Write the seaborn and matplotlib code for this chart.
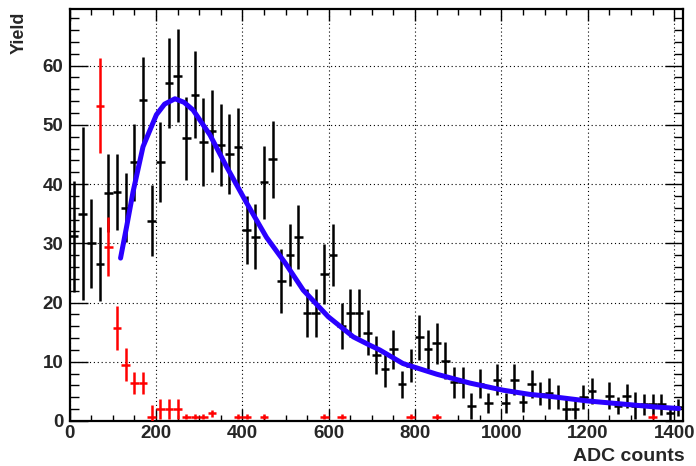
import numpy as np
import pandas as pd
import matplotlib
matplotlib.use("Agg")
import matplotlib.pyplot as plt
from matplotlib.ticker import MultipleLocator
import seaborn as sns

# ---------------- data ----------------
bin_width = 20

black_x = [10, 30, 50, 70, 90, 110, 130, 150, 170, 190, 210, 230, 250, 270, 290,
           310, 330, 350, 370, 390, 410, 430, 450, 470, 490, 510, 530, 550, 570, 590,
           610, 630, 650, 670, 690, 710, 730, 750, 770, 790, 810, 830, 850, 870, 890,
           910, 930, 950, 970, 990, 1010, 1030, 1050, 1070, 1090, 1110, 1130, 1150,
           1170, 1190, 1210, 1250, 1270, 1290, 1310, 1330, 1350, 1370, 1390, 1410]
black_y = [31.2, 35.0, 30.0, 26.5, 38.5, 38.7, 36.0, 43.7, 54.2, 33.8, 43.7, 57.0, 58.3, 47.7, 55.1,
           47.1, 49.0, 46.6, 45.1, 46.2, 32.2, 31.1, 40.3, 44.2, 23.6, 28.0, 31.1, 18.2, 18.2, 24.8,
           28.0, 16.0, 18.2, 18.2, 14.9, 11.1, 8.7, 12.1, 6.2, 9.3, 14.1, 12.1, 13.1, 10.2, 6.5,
           6.5, 2.6, 6.3, 3.1, 7.0, 3.1, 7.0, 3.2, 6.2, 4.6, 4.7, 4.1, 2.0,
           2.0, 4.1, 5.1, 4.3, 2.6, 4.2, 2.6, 2.8, 2.8, 2.8, 1.3, 2.3]
black_err = [9.4, 14.6, 7.5, 6.2, 6.6, 6.4, 5.8, 6.5, 7.3, 6.0, 6.7, 7.6, 7.9, 7.0, 7.3,
             7.5, 6.9, 6.9, 6.7, 6.6, 5.7, 5.5, 6.2, 6.5, 5.4, 5.2, 5.4, 4.1, 4.1, 5.1,
             5.2, 3.9, 4.1, 4.1, 3.8, 3.2, 3.0, 3.3, 2.3, 2.8, 3.8, 3.3, 3.4, 3.1, 2.6,
             2.6, 2.2, 2.4, 1.7, 2.6, 1.7, 2.6, 1.7, 2.4, 1.9, 2.6, 2.0, 2.0,
             1.7, 2.0, 2.2, 2.2, 1.4, 2.0, 2.3, 1.8, 1.8, 1.8, 1.3, 1.4]

red_x = [70, 90, 110, 130, 150, 170, 190, 210, 230, 250, 270, 290, 310, 330,
         390, 410, 450, 590, 630, 790, 850, 1350]
red_y = [53.2, 29.4, 15.7, 9.5, 6.4, 6.4, 0.7, 2.0, 2.0, 2.0, 0.7, 0.7, 0.7, 1.3,
         0.7, 0.7, 0.7, 0.7, 0.7, 0.7, 0.7, 0.7]
red_err = [8.0, 5.0, 3.7, 2.8, 1.9, 1.9, 2.0, 1.7, 1.7, 1.7, 0.4, 0.4, 0.4, 0.6,
           0.4, 0.4, 0.4, 0.4, 0.4, 0.4, 0.4, 0.4]

fit_x = [118, 132, 147, 170, 201, 220, 244, 265, 286, 325, 363, 410, 456, 500,
         541, 599, 657, 695, 718, 772, 850, 927, 1004, 1065, 1119, 1197, 1274, 1351, 1411]
fit_y = [27.5, 32.8, 38.7, 46.3, 51.7, 53.5, 54.4, 53.8, 52.5, 48.3, 43.0, 36.8, 31.0, 26.6,
         22.1, 17.6, 14.2, 12.8, 12.0, 9.7, 7.9, 6.4, 5.2, 4.5, 4.1, 3.4, 2.9, 2.4, 2.1]

x_ticks = [0, 200, 400, 600, 800, 1000, 1200, 1400]
y_ticks = [0, 10, 20, 30, 40, 50, 60]

# ---------------- style ----------------
sns.set_theme(style="white")
plt.rcParams["font.family"] = ["Liberation Sans", "DejaVu Sans"]
plt.rcParams["font.weight"] = "bold"

fig = plt.figure(figsize=(6.96, 4.66), dpi=100)
ax = fig.add_axes([0.100, 0.0966, 0.881, 0.8834])

ax.errorbar(black_x, black_y, yerr=black_err, xerr=bin_width / 2, fmt="none",
            ecolor="black", elinewidth=1.8, capsize=0, zorder=3)
ax.errorbar(red_x, red_y, yerr=red_err, xerr=bin_width / 2, fmt="none",
            ecolor="#ff0000", elinewidth=1.8, capsize=0, zorder=4)

fit_df = pd.DataFrame({"adc": fit_x, "yield": fit_y})
sns.lineplot(data=fit_df, x="adc", y="yield", ax=ax, color="#2a00ff",
             linewidth=3.6, sort=False, zorder=5)

ax.set_xlim(0, 1420)
ax.set_ylim(0, 69.5)
ax.set_xticks(x_ticks)
ax.set_yticks(y_ticks)
ax.set_xticklabels([str(t) for t in x_ticks], fontsize=13.5, fontweight="bold")
ax.set_yticklabels([str(t) for t in y_ticks], fontsize=13.5, fontweight="bold")
ax.xaxis.set_minor_locator(MultipleLocator(50))
ax.yaxis.set_minor_locator(MultipleLocator(2))

ax.tick_params(axis="x", which="major", direction="in", top=True, bottom=True,
               length=8.5, width=1.0, pad=3, color="black")
ax.tick_params(axis="x", which="minor", direction="in", top=True, bottom=True,
               length=4.3, width=1.0, color="black")
ax.tick_params(axis="y", which="major", direction="in", left=True, right=True,
               length=13, width=1.0, pad=4.5, color="black")
ax.tick_params(axis="y", which="minor", direction="in", left=True, right=True,
               length=6.5, width=1.0, color="black")

for s in ax.spines.values():
    s.set_linewidth(1.6)
    s.set_color("black")

ax.grid(True, which="major", linestyle=(0, (1, 2.5)), color="black", linewidth=0.8)
ax.set_axisbelow(True)
ax.set_xlabel("")
ax.set_ylabel("")

fig.text(0.984, 0.0107, "ADC counts", ha="right", va="baseline",
         fontsize=14, fontweight="bold")
fig.text(0.028, 0.975, "Yield", ha="center", va="top", rotation=90,
         fontsize=13, fontweight="bold")

fig.savefig("out.png", dpi=100)
